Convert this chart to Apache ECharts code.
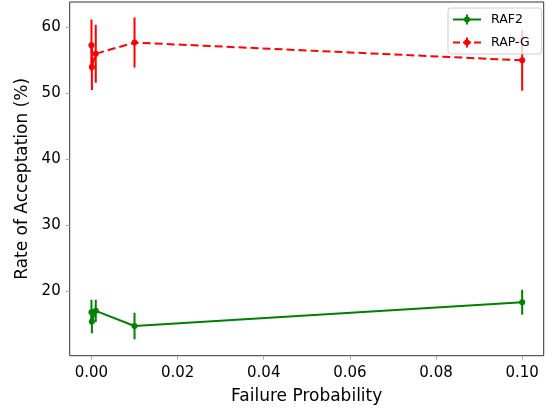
<!DOCTYPE html>
<html>
<head>
<meta charset="utf-8">
<script src="https://cdn.jsdelivr.net/npm/echarts@6/dist/echarts.min.js"></script>
<style>
html,body{margin:0;padding:0;background:#fff;}
#chart{width:554px;height:410px;}
</style>
</head>
<body>
<div id="chart"></div>
<script>
// ---- data ----
var failureProb = [0, 0.0001, 0.001, 0.01, 0.1];
var raf2 = [16.8, 15.4, 17.0, 14.7, 18.3];
var raf2Err = [1.9, 1.8, 1.7, 2.0, 1.9];
var rapg = [57.3, 54.0, 56.0, 57.7, 55.0];
var rapgErr = [3.9, 3.5, 4.4, 3.8, 4.6];
var xTicks = [0, 0.02, 0.04, 0.06, 0.08, 0.10];
var yTicks = [20, 30, 40, 50, 60];
var seriesNames = ['RAF2', 'RAP-G'];

function pairs(xs, ys) { return xs.map(function (x, i) { return [x, ys[i]]; }); }
function errs(xs, ys, es) { return xs.map(function (x, i) { return [x, ys[i] - es[i], ys[i] + es[i]]; }); }

function errRender(color) {
  return function (params, api) {
    var p1 = api.coord([api.value(0), api.value(1)]);
    var p2 = api.coord([api.value(0), api.value(2)]);
    return {
      type: 'line',
      shape: { x1: p1[0], y1: p1[1], x2: p2[0], y2: p2[1] },
      style: { stroke: color, lineWidth: 2 }
    };
  };
}

var FONT = 'DejaVu Sans';
var iconSolid = 'path://M0,4H28V6H0Z M13,0H15V10H13Z M11,5a3,3 0 1,1 6,0a3,3 0 1,1 -6,0Z';
var iconDashed = 'path://M0,4H7V6H0Z M10,4H18V6H10Z M21,4H28V6H21Z M13,0H15V10H13Z M11,5a3,3 0 1,1 6,0a3,3 0 1,1 -6,0Z';

var chart = echarts.init(document.getElementById('chart'), null, { renderer: 'canvas' });
chart.setOption({
  animation: false,
  backgroundColor: '#fff',
  textStyle: { fontFamily: FONT },
  grid: { left: 69.7, right: 10.3, top: 2, bottom: 54.3, show: true, borderColor: '#333', borderWidth: 1, backgroundColor: 'transparent' },
  xAxis: {
    type: 'value', min: -0.00505, max: 0.105,
    name: 'Failure Probability', nameLocation: 'middle', nameGap: 32,
    nameTextStyle: { fontSize: 17, color: '#000', fontFamily: FONT },
    axisLine: { show: false, onZero: false },
    splitLine: { show: false },
    axisTick: { show: true, customValues: xTicks, length: 4, lineStyle: { color: '#aaa' } },
    axisLabel: { customValues: xTicks, fontSize: 15, color: '#000', margin: 10, fontFamily: FONT,
      formatter: function (v) { return v.toFixed(2); } }
  },
  yAxis: {
    type: 'value', min: 10.2, max: 63.85,
    name: 'Rate of Acceptation (%)', nameLocation: 'middle', nameGap: 38,
    nameTextStyle: { fontSize: 17, color: '#000', fontFamily: FONT },
    axisLine: { show: false, onZero: false },
    splitLine: { show: false },
    axisTick: { show: true, customValues: yTicks, length: 4, lineStyle: { color: '#aaa' } },
    axisLabel: { customValues: yTicks, fontSize: 15, color: '#000', margin: 9, fontFamily: FONT }
  },
  legend: {
    left: 448, top: 8, orient: 'vertical',
    padding: [5, 12, 5, 5], itemGap: 10, itemWidth: 28, itemHeight: 10,
    backgroundColor: 'rgba(255,255,255,0.8)', borderColor: '#ccc', borderWidth: 1, borderRadius: 3,
    textStyle: { fontSize: 12.5, color: '#000', fontFamily: FONT, padding: [0, 0, 0, 5] },
    itemStyle: { borderWidth: 0 },
    data: [
      { name: seriesNames[0], icon: iconSolid },
      { name: seriesNames[1], icon: iconDashed }
    ]
  },
  series: [
    { name: seriesNames[0], type: 'custom', renderItem: errRender('#008000'), data: errs(failureProb, raf2, raf2Err), z: 2, clip: true, itemStyle: { color: '#008000' } },
    { name: seriesNames[0], type: 'line', data: pairs(failureProb, raf2), symbol: 'circle', symbolSize: 6,
      color: '#008000', lineStyle: { color: '#008000', width: 2 }, itemStyle: { color: '#008000', borderWidth: 0 }, z: 3 },
    { name: seriesNames[1], type: 'custom', renderItem: errRender('#ff0000'), data: errs(failureProb, rapg, rapgErr), z: 2, clip: true, itemStyle: { color: '#ff0000' } },
    { name: seriesNames[1], type: 'line', data: pairs(failureProb, rapg), symbol: 'circle', symbolSize: 6,
      color: '#ff0000', lineStyle: { color: '#ff0000', width: 2, type: [8, 4] }, itemStyle: { color: '#ff0000', borderWidth: 0 }, z: 3 }
  ]
});
</script>
</body>
</html>
